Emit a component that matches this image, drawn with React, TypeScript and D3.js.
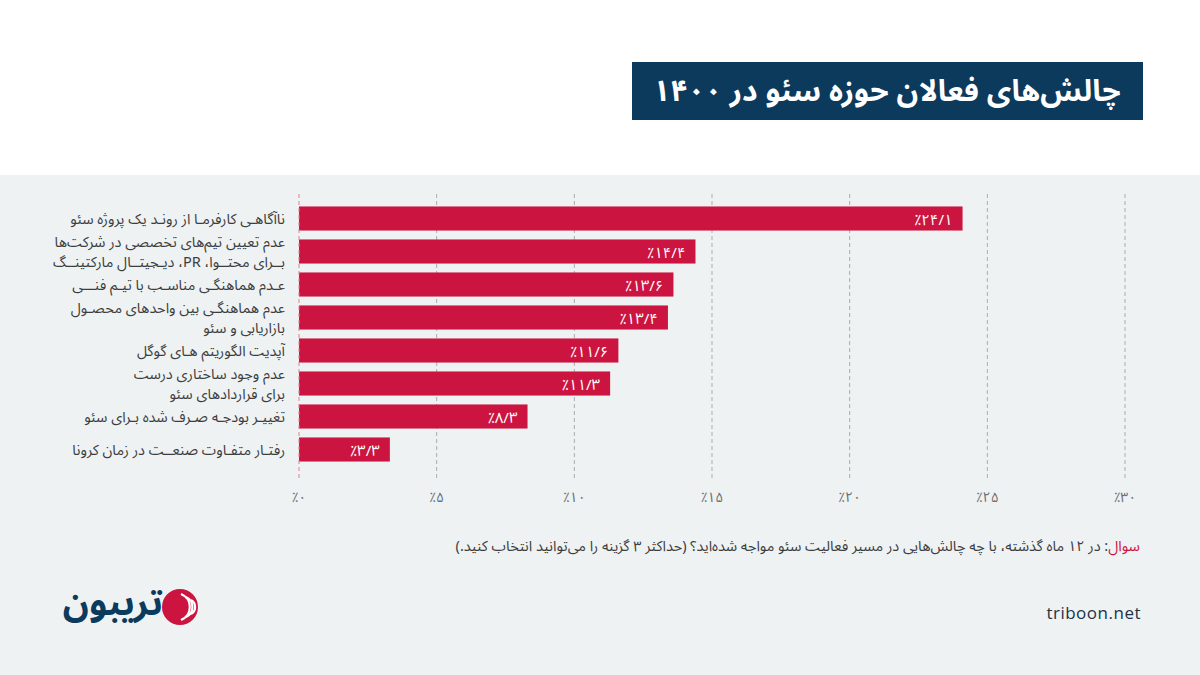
import React from "react";
import * as d3 from "d3";

const categories: string[][] = [
  ["ناآگاهـی کارفرمـا از رونـد یک پروژه سئو"],
  ["عدم تعیین تیم‌های تخصصی در شرکت‌ها", "بــرای محتــوا، PR، دیـجیتــال مارکتینــگ"],
  ["عـدم هماهنگـی مناسـب با تیـم فنـــی"],
  ["عدم هماهنگـی بین واحدهای محصـول", "بازاریابی و سئو"],
  ["آپدیت الگوریتم هـای گوگل"],
  ["عدم وجود ساختاری درست", "برای قراردادهای سئو"],
  ["تغییـر بودجـه صـرف شده بـرای سئو"],
  ["رفتـار متفـاوت صنعــت در زمان کرونا"],
];
const values: number[] = [24.1, 14.4, 13.6, 13.4, 11.6, 11.3, 8.3, 3.3];
const valueLabels: string[] = ["٪۲۴/۱", "٪۱۴/۴", "٪۱۳/۶", "٪۱۳/۴", "٪۱۱/۶", "٪۱۱/۳", "٪۸/۳", "٪۳/۳"];
const ticks: number[] = [0, 5, 10, 15, 20, 25, 30];
const tickLabels: string[] = ["٪۰", "٪۵", "٪۱۰", "٪۱۵", "٪۲۰", "٪۲۵", "٪۳۰"];
const title = "چالش‌های فعالان حوزه سئو در ۱۴۰۰";
const noteLead = "سوال";
const noteBody = ": در ۱۲ ماه گذشته، با چه چالش‌هایی در مسیر فعالیت سئو مواجه شده‌اید؟ (حداکثر ۳ گزینه را می‌توانید انتخاب کنید.)";

const FONT = "'Noto Sans Arabic', 'DejaVu Sans', sans-serif";

export default function App() {
  const W = 1200, H = 675;
  const x = d3.scaleLinear().domain([0, 30]).range([299, 1125]);
  const y = d3.scaleBand<number>().domain(d3.range(values.length)).range([202, 466]).paddingInner(0.27).paddingOuter(0.135);
  const bh = y.bandwidth();
  const lh = 20;
  return (
    <div style={{ position: "fixed", left: 0, top: 0 }}>
      <svg width={W} height={H} style={{ display: "block", fontFamily: FONT }}>
        <rect x={0} y={0} width={W} height={H} fill="#ffffff" />
        <rect x={0} y={175} width={W} height={H - 175} fill="#eff2f2" />
        <rect x={632} y={62} width={511} height={58} fill="#0c3a5c" />
        <text x={887} y={91} fill="#fff" fontSize={30} fontWeight="bold" textAnchor="middle" dominantBaseline="central" style={{ direction: "rtl" }}>{title}</text>
        {ticks.map((t, i) => (
          <g key={i}>
            {t > 0 && <line x1={x(t)} x2={x(t)} y1={194} y2={478} stroke="#a9adb0" strokeWidth={1} strokeDasharray="4,3" />}
            <text x={x(t)} y={497} fill="#6a6e72" fontSize={14} textAnchor="middle" dominantBaseline="central">{tickLabels[i]}</text>
          </g>
        ))}
        {values.map((v, i) => {
          const yy = y(i)!;
          const cy = yy + bh / 2;
          const lines = categories[i];
          const y0 = cy - ((lines.length - 1) / 2) * lh;
          return (
            <g key={i}>
              <rect x={x(0)} y={yy} width={x(v) - x(0)} height={bh} fill="#cc1440" />
              <text x={x(v) - 10} y={cy + 1} fill="#fff" fontSize={15} textAnchor="end" dominantBaseline="central">{valueLabels[i]}</text>
              <text fill="#3b3d40" fontSize={14.5} textAnchor="start" dominantBaseline="central" style={{ direction: "rtl" }}>
                {lines.map((l, j) => (
                  <tspan key={j} x={285} y={y0 + j * lh}>{l}</tspan>
                ))}
              </text>
            </g>
          );
        })}
        <line x1={x(0)} x2={x(0)} y1={194} y2={478} stroke="#e07f98" strokeWidth={1} strokeDasharray="4,3" />
        <text x={1140} y={546} fontSize={14.5} textAnchor="start" dominantBaseline="central" style={{ direction: "rtl" }}>
          <tspan fill="#cc1440">{noteLead}</tspan>
          <tspan fill="#3b3d40">{noteBody}</tspan>
        </text>
        <circle cx={180} cy={607} r={18} fill="#cc1440" />
        <path d="M181,594 A14,14 0 0 1 181,620" fill="none" stroke="#fff" strokeWidth={2.2} />
        <path d="M186,597 A11,11 0 0 1 186,617" fill="none" stroke="#fff" strokeWidth={2.2} />
        <path d="M191,600 A8,8 0 0 1 191,614" fill="none" stroke="#fff" strokeWidth={2.2} />
        <text x={163} y={604} fill="#0c3a5c" fontSize={36} fontWeight="bold" textAnchor="start" dominantBaseline="central" style={{ direction: "rtl" }}>تریبون</text>
        <text x={1141} y={612} fill="#1d3347" fontSize={17} textAnchor="end" dominantBaseline="central" fontFamily="'Open Sans', sans-serif" letterSpacing={0.5}>triboon.net</text>
      </svg>
    </div>
  );
}
